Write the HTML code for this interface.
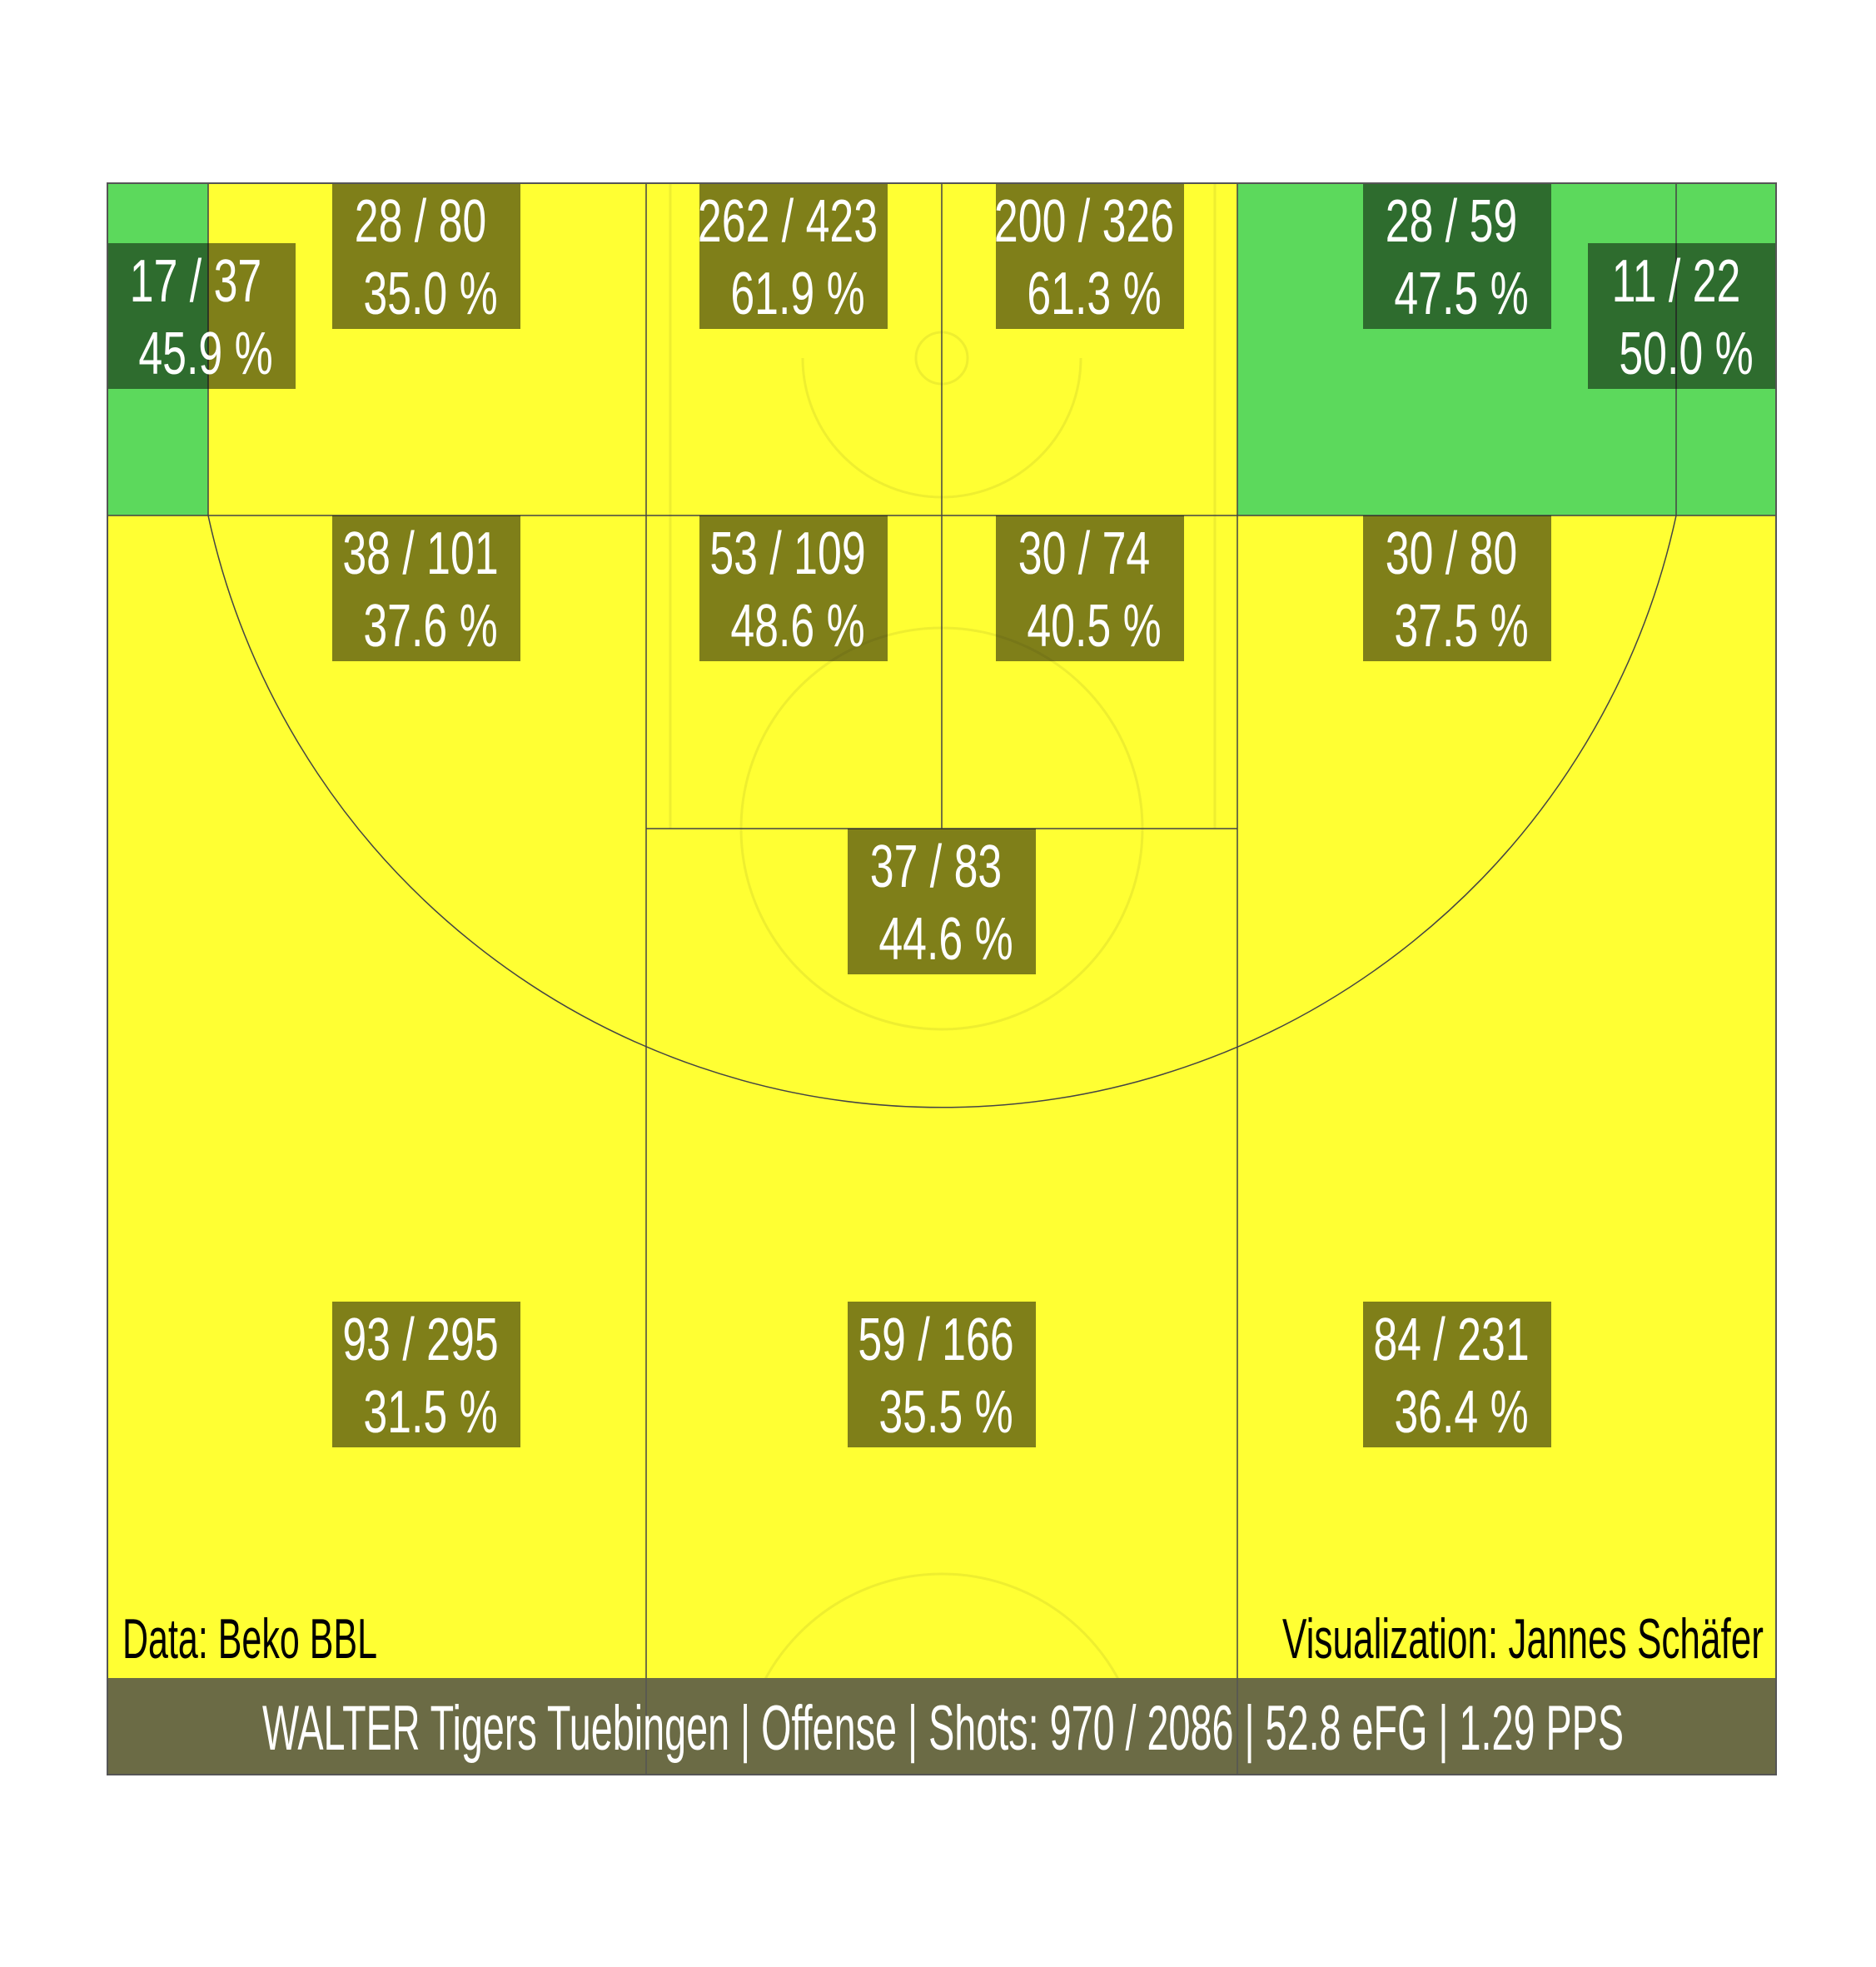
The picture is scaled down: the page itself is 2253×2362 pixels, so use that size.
<!DOCTYPE html>
<html><head><meta charset="utf-8"><style>
html,body{margin:0;padding:0;background:#fff;}
svg{display:block;}
text{font-family:"Liberation Sans Narrow","Liberation Sans",sans-serif;}
</style></head><body>
<svg id="chart" width="2253" height="2362" viewBox="0 0 2253 2362" xmlns="http://www.w3.org/2000/svg">
<g id="base">
  <rect x="129" y="220" width="2004" height="1911" fill="#ffff33"/>
</g>
<g id="zonefills"></g>
<g id="courtlines" fill="none" stroke="#eeee30" stroke-width="3">
  <line x1="805" y1="220" x2="805" y2="995"/>
  <line x1="1459" y1="220" x2="1459" y2="995"/>
  <circle cx="1131" cy="430" r="31"/>
  <path d="M964 430 A167 167 0 0 0 1298 430"/>
  <circle cx="1131" cy="995" r="241"/>
  <path d="M890 2131 A241 241 0 0 1 1372 2131"/>
</g>
<g id="zonelines" fill="none" stroke="#444" stroke-width="1.5">
  <line x1="129" y1="619" x2="2133" y2="619"/>
  <line x1="250" y1="220" x2="250" y2="619"/>
  <line x1="2013" y1="220" x2="2013" y2="619"/>
  <line x1="776" y1="220" x2="776" y2="2131"/>
  <line x1="1486" y1="220" x2="1486" y2="2131"/>
  <line x1="1131" y1="220" x2="1131" y2="995"/>
  <line x1="776" y1="995" x2="1486" y2="995"/>
  <path d="M250 619 A902 902 0 0 0 2013 619"/>
</g>
<g id="labels"></g>
<rect x="129" y="2015" width="2004" height="116" fill="#6b6b45"/>
<line x1="776" y1="2015" x2="776" y2="2131" stroke="#555" stroke-width="1.5"/>
<line x1="1486" y1="2015" x2="1486" y2="2131" stroke="#555" stroke-width="1.5"/>
<rect x="129" y="220" width="2004" height="1911" fill="none" stroke="#555" stroke-width="2"/>
<text x="147" y="1991" font-size="68" fill="#000" textLength="306" lengthAdjust="spacingAndGlyphs">Data: Beko BBL</text>
<text x="2118" y="1991" font-size="68" fill="#000" text-anchor="end" textLength="578" lengthAdjust="spacingAndGlyphs">Visualization: Jannes Schäfer</text>
<text x="315" y="2101" font-size="76" fill="#fff" textLength="1635" lengthAdjust="spacingAndGlyphs">WALTER Tigers Tuebingen | Offense | Shots: 970 / 2086 | 52.8 eFG | 1.29 PPS</text>
</svg>
<script>
// zone data
const zones    = ["left-corner","left-wing-mid","paint-left","paint-right","right-wing-mid","right-corner","left-long-two","ft-left","ft-right","right-long-two","top-key","left-three","center-three","right-three"];
const made     = [17, 28, 262, 200, 28, 11, 38, 53, 30, 30, 37, 93, 59, 84];
const attempts = [37, 80, 423, 326, 59, 22, 101, 109, 74, 80, 83, 295, 166, 231];
const hot      = [1, 0, 0, 0, 1, 1, 0, 0, 0, 0, 0, 0, 0, 0];
// label box top-left anchors (layout)
const boxX = [129, 399, 840, 1196, 1637, 1907, 399, 840, 1196, 1637, 1018, 399, 1018, 1637];
const boxY = [292, 220, 220, 220, 220, 292, 619, 619, 619, 619, 995, 1563, 1563, 1563];
// green zone rectangles (layout)
const greenRects = {"left-corner":[129,220,121,399],"right-wing-mid":[1486,220,527,399],"right-corner":[2013,220,120,399]};
const NS = "http://www.w3.org/2000/svg";
const fills = document.getElementById('zonefills');
const labels = document.getElementById('labels');
zones.forEach((z,i)=>{
  if (hot[i] && greenRects[z]) {
    const g = greenRects[z];
    const r = document.createElementNS(NS,'rect');
    
    
    r.setAttribute('x',g[0]); r.setAttribute('y',g[1]); r.setAttribute('width',g[2]); r.setAttribute('height',g[3]);
    r.setAttribute('fill','#5cd95c');
    fills.appendChild(r);
  }
  const bw = 226, bh = 175;
  let x = boxX[i], w = bw;
  if (x + w > 2133) w = 2133 - x;
  const b = document.createElementNS(NS,'rect');
  
  
  b.setAttribute('x',x); b.setAttribute('y',boxY[i]); b.setAttribute('width',w); b.setAttribute('height',bh);
  b.setAttribute('fill','rgba(0,0,0,0.5)');
  labels.appendChild(b);
  const cx = boxX[i] + bw/2;
  const pct = (100*made[i]/attempts[i]).toFixed(1) + ' %';
  const lines = [[made[i] + ' / ' + attempts[i], cx - 7, boxY[i] + 70],[pct, cx + 5, boxY[i] + 157]];
  lines.forEach((ln,k)=>{
    const t = document.createElementNS(NS,'text');
    
    
    t.setAttribute('transform','translate(' + ln[1] + ',' + ln[2] + ') scale(0.72,1)');
    t.setAttribute('text-anchor','middle');
    t.setAttribute('font-size','72');
    t.setAttribute('fill','#fff');
    t.textContent = ln[0];
    labels.appendChild(t);
  });
});
</script>
</body></html>
